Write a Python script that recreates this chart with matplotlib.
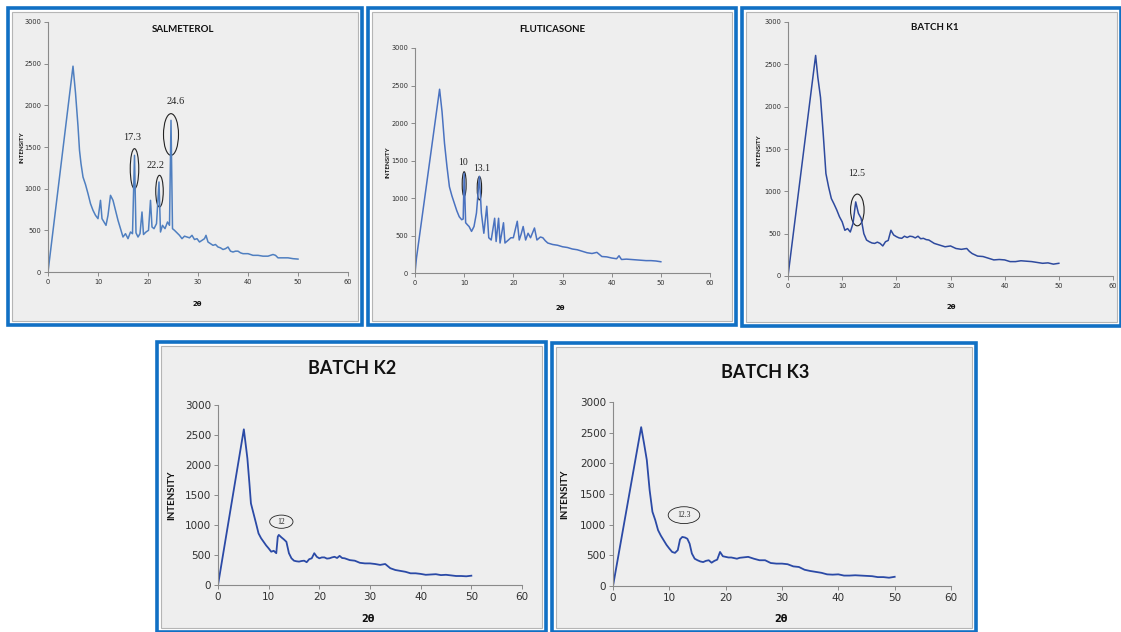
"""Five XRD patterns (salmeterol, fluticasone, batches K1-K3), one framed panel each."""
import matplotlib
matplotlib.use("Agg")
import matplotlib.pyplot as plt
from matplotlib.patches import Ellipse, Rectangle

W, H = 1121, 632

# ---- data (2-theta, intensity) ----
SALM_X = [0, 5, 5.5, 6, 6.3, 6.6, 7, 7.5, 8, 8.5,
          9, 9.5, 10, 10.5, 10.8, 11.2, 11.6, 12, 12.5, 13,
          13.5, 14, 14.5, 15, 15.5, 16, 16.5, 16.9, 17.3, 17.6,
          18, 18.4, 18.8, 19.1, 19.6, 20.1, 20.5, 20.8, 21.2, 21.7,
          22.2, 22.5, 22.9, 23.4, 23.9, 24.3, 24.6, 24.9, 25.3, 25.8,
          26.3, 26.8, 27.3, 27.8, 28.3, 28.8, 29.3, 29.8, 30.3, 30.8,
          31.3, 31.6, 32, 32.5, 33, 33.5, 34, 34.5, 35, 35.5,
          36, 36.5, 37, 37.5, 38, 38.5, 39, 40, 41, 42,
          43, 44, 45, 45.5, 46, 47, 48, 49, 50]
SALM_Y = [0, 2470, 2150, 1750, 1460, 1300, 1140, 1050, 940, 820,
          740, 680, 640, 860, 640, 600, 560, 680, 920, 860,
          740, 620, 520, 420, 460, 400, 480, 460, 1400, 470,
          420, 460, 720, 450, 480, 500, 860, 540, 520, 580,
          1080, 480, 560, 520, 600, 560, 1820, 520, 500, 470,
          440, 400, 430, 420, 410, 440, 390, 400, 360, 380,
          400, 440, 360, 340, 320, 330, 300, 290, 270, 280,
          300, 250, 240, 250, 250, 230, 220, 220, 200, 200,
          190, 190, 210, 200, 170, 170, 170, 160, 155]

FLUT_X = [0, 0.3, 5, 5.5, 6, 6.5, 7, 7.5, 8, 8.5,
          9, 9.5, 9.8, 10, 10.3, 10.7, 11, 11.5, 12, 12.5,
          13.1, 13.5, 14, 14.6, 15, 15.5, 16.2, 16.5, 17, 17.3,
          18, 18.3, 19, 19.5, 20, 20.8, 21.2, 21.6, 22, 22.5,
          23, 23.5, 24.3, 24.8, 25.5, 26, 26.5, 27, 28, 29,
          30, 31, 32, 33, 34, 35, 36, 37, 38, 39,
          40, 41, 41.5, 42, 43, 44, 45, 46, 47, 48,
          49, 50]
FLUT_Y = [0, 200, 2450, 2150, 1730, 1420, 1150, 1030, 930, 830,
          750, 710, 720, 1330, 670, 640, 620, 555, 620, 800,
          1290, 800, 530, 890, 470, 440, 730, 420, 730, 400,
          670, 400, 440, 470, 470, 690, 440, 520, 620, 440,
          530, 470, 600, 440, 480, 470, 430, 400, 380, 370,
          350, 340, 320, 310, 290, 270, 260, 275, 220, 215,
          200, 190, 230, 180, 185, 180, 175, 170, 165, 165,
          160, 150]

K1_X = [0, 5.1, 5.5, 6, 6.5, 7, 7.5, 8, 8.5, 9,
        9.5, 10, 10.5, 11, 11.5, 12, 12.5, 13, 13.5, 14,
        14.5, 15, 15.5, 16, 16.5, 17, 17.5, 18, 18.5, 19,
        19.5, 20, 20.5, 21, 21.5, 22, 22.5, 23, 23.5, 24,
        24.5, 25, 25.5, 26, 27, 28, 29, 30, 31, 32,
        33, 33.5, 34, 35, 36, 37, 38, 39, 40, 41,
        42, 43, 44, 45, 46, 47, 48, 49, 50]
K1_Y = [0, 2605, 2350, 2110, 1680, 1210, 1050, 915, 850, 780,
        700, 640, 540, 560, 520, 620, 875, 740, 680, 500,
        425, 405, 390, 385, 400, 385, 355, 405, 420, 540,
        485, 465, 450, 445, 470, 455, 470, 465, 450, 470,
        440, 445, 430, 425, 385, 365, 345, 355, 325, 315,
        325, 290, 265, 235, 230, 210, 190, 195, 190, 170,
        170, 180, 175, 170, 160, 150, 155, 140, 150]

K2_X = [0, 5.1, 5.6, 5.8, 6.2, 6.5, 7, 7.5, 8, 8.5,
        9, 9.5, 10, 10.5, 11, 11.5, 11.8, 12, 12.5, 13,
        13.5, 14, 14.5, 15, 15.5, 16, 16.5, 17, 17.5, 18,
        18.5, 19, 19.5, 20, 20.5, 21, 21.5, 22, 22.5, 23,
        23.5, 24, 24.5, 25, 26, 27, 28, 29, 30, 31,
        32, 33, 34, 35, 36, 37, 38, 39, 40, 41,
        42, 43, 44, 45, 46, 47, 48, 49, 50]
K2_Y = [0, 2595, 2250, 2110, 1695, 1360, 1195, 1030, 860, 780,
        720, 660, 610, 555, 570, 530, 805, 835, 795, 760,
        720, 530, 445, 405, 395, 390, 400, 405, 380, 430,
        445, 530, 470, 445, 460, 460, 440, 445, 460, 470,
        450, 485, 450, 445, 415, 405, 370, 360, 360, 350,
        335, 350, 280, 250, 235, 220, 195, 195, 185, 170,
        175, 180, 165, 170, 160, 150, 150, 145, 155]

K3_X = [0, 5, 5.5, 6, 6.5, 7, 7.5, 8, 8.5, 9,
        9.5, 10, 10.5, 11, 11.5, 11.9, 12.3, 12.8, 13.2, 13.6,
        14, 14.5, 15, 15.5, 16, 16.5, 17, 17.5, 18, 18.5,
        19, 19.5, 20, 20.5, 21, 21.5, 22, 22.5, 23, 23.5,
        24, 24.5, 25, 26, 27, 28, 29, 30, 31, 32,
        33, 34, 35, 36, 37, 38, 39, 40, 41, 42,
        43, 44, 45, 46, 47, 48, 49, 50]
K3_Y = [0, 2590, 2330, 2055, 1565, 1210, 1075, 910, 820, 745,
        670, 610, 555, 540, 585, 760, 800, 790, 770, 690,
        530, 445, 420, 400, 390, 410, 420, 380, 410, 430,
        555, 485, 475, 465, 465, 455, 445, 460, 465, 470,
        475, 460, 445, 420, 420, 375, 365, 365, 355, 320,
        310, 265, 245, 230, 215, 190, 185, 190, 170, 170,
        175, 170, 165, 160, 145, 145, 135, 150]

TITLES = ["SALMETEROL", "FLUTICASONE", "BATCH K1", "BATCH K2", "BATCH K3"]
CURVES = [(SALM_X, SALM_Y), (FLUT_X, FLUT_Y), (K1_X, K1_Y), (K2_X, K2_Y), (K3_X, K3_Y)]

# peak marks: label text, label pos, ellipse centre, ellipse width/height (data units)
PEAKS = [
    [("17.3", 16.8, 1620, 17.3, 1240, 1.7, 480),
     ("22.2", 21.5, 1280, 22.3, 970, 1.5, 380),
     ("24.6", 25.6, 2040, 24.6, 1650, 3.0, 500)],
    [("10", 9.7, 1480, 10.0, 1185, 0.8, 330),
     ("13.1", 13.6, 1400, 13.1, 1130, 0.9, 310)],
    [("12.5", 12.6, 1210, 12.8, 780, 2.5, 375)],
    [("12", 12.5, 1055, 12.5, 1055, 4.6, 220)],
    [("12.3", 12.6, 1155, 12.6, 1155, 5.6, 275)],
]

# ---- layout, in reference pixels ----
FRAMES = [(8, 8, 362, 325), (368, 8, 736, 325), (742, 8, 1121, 326),
          (157, 342, 546, 632), (552, 343, 976, 632)]
AXES = [(48, 22, 348, 272), (415, 48, 710, 273), (788, 22, 1113, 276),
        (218, 405, 522, 585), (613, 402, 951, 586)]
TITLE_POS = [(183, 29), (552, 29), (935, 27), (352, 369), (765, 372)]
YLAB_POS = [(22, 147), (388, 162), (759, 150), (172, 495), (565, 494)]
XLAB_POS = [(197, 304), (560, 308), (951, 307), (368, 619), (781, 619)]
LINE_COLORS = ["#4f7fc0", "#4a72c0", "#2e4a9e", "#2b4aa6", "#2b4aa6"]
BIG = [False, False, False, True, True]
PEAK_FS = [7.5, 7, 7, 5.5, 5.5]


def fx(x):
    return x / W


def fy(y):
    return 1 - y / H


fig = plt.figure(figsize=(W / 100, H / 100), dpi=100)
fig.patch.set_facecolor("white")

for i in range(5):
    x0, y0, x1, y1 = FRAMES[i]
    fig.add_artist(Rectangle((fx(x0), fy(y1)), fx(x1 - x0), (y1 - y0) / H,
                             transform=fig.transFigure, facecolor="white",
                             edgecolor="#1170c4", linewidth=2.6, zorder=0))
    fig.add_artist(Rectangle((fx(x0 + 4), fy(y1 - 4)), fx(x1 - x0 - 8), (y1 - y0 - 8) / H,
                             transform=fig.transFigure, facecolor="#eeeeee",
                             edgecolor="#b5b5b5", linewidth=0.8, zorder=0))

    a0, b0, a1, b1 = AXES[i]
    ax = fig.add_axes([fx(a0), fy(b1), fx(a1 - a0), (b1 - b0) / H])
    ax.patch.set_alpha(0)
    xs, ys = CURVES[i]
    ax.plot(xs, ys, color=LINE_COLORS[i], lw=1.1 if not BIG[i] else 1.3)
    ax.set_xlim(0, 60)
    ax.set_ylim(0, 3000)
    ax.set_xticks(range(0, 61, 10))
    ax.set_yticks(range(0, 3001, 500))
    for s in ("top", "right"):
        ax.spines[s].set_visible(False)
    for s in ("left", "bottom"):
        ax.spines[s].set_color("#8a8a8a")
        ax.spines[s].set_linewidth(0.8)
    tick_fs = 7.5 if BIG[i] else 4.8
    ax.tick_params(direction="out", length=3, width=0.7, color="#8a8a8a",
                   labelsize=tick_fs, labelcolor="#303030", pad=2)

    for txt, tx, ty, ex, ey, ew, eh in PEAKS[i]:
        ax.add_patch(Ellipse((ex, ey), ew, eh, fill=False, edgecolor="#222222",
                             linewidth=0.8 if not BIG[i] else 0.6))
        ax.text(tx, ty, txt, ha="center", va="center", family="Liberation Serif",
                fontsize=PEAK_FS[i], color="#222222")

    tx, ty = TITLE_POS[i]
    fig.text(fx(tx), fy(ty), TITLES[i], ha="center", va="center", family="Lato",
             fontweight="bold", fontsize=13 if BIG[i] else 7, color="#111111")
    lx, ly = YLAB_POS[i]
    fig.text(fx(lx), fy(ly), "INTENSITY", ha="center", va="center", rotation=90,
             family="Lato", fontweight="bold", fontsize=7 if BIG[i] else 4.5, color="#111111")
    lx, ly = XLAB_POS[i]
    fig.text(fx(lx), fy(ly), "2θ", ha="center", va="center", family="DejaVu Sans",
             fontweight="bold", fontsize=7 if BIG[i] else 5, color="#111111")

fig.savefig("out.png", dpi=100)
